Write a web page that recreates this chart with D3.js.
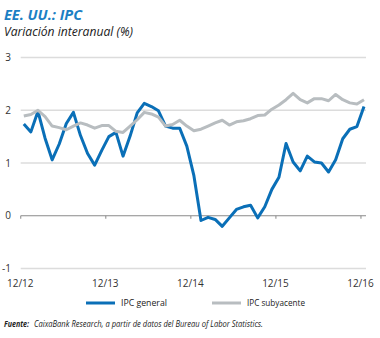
<!DOCTYPE html>
<html>
<head>
<meta charset="utf-8">
<script src="https://cdn.jsdelivr.net/npm/d3@7"></script>
<style>
  body { margin: 0; background: #fff; }
  svg { display: block; font-family: "Open Sans", "Liberation Sans", sans-serif; }
</style>
</head>
<body>
<div id="chart"></div>
<script>
// meses de 12/12 a 12/16
var months = ["12/12","01/13","02/13","03/13","04/13","05/13","06/13","07/13","08/13","09/13","10/13","11/13",
              "12/13","01/14","02/14","03/14","04/14","05/14","06/14","07/14","08/14","09/14","10/14","11/14",
              "12/14","01/15","02/15","03/15","04/15","05/15","06/15","07/15","08/15","09/15","10/15","11/15",
              "12/15","01/16","02/16","03/16","04/16","05/16","06/16","07/16","08/16","09/16","10/16","11/16",
              "12/16"];

var ipcGeneral = [1.74, 1.59, 1.98, 1.47, 1.06, 1.36, 1.75, 1.96, 1.52, 1.18, 0.96, 1.24,
                  1.50, 1.58, 1.13, 1.51, 1.95, 2.13, 2.07, 1.99, 1.70, 1.66, 1.66, 1.32,
                  0.76, -0.09, -0.03, -0.07, -0.20, -0.04, 0.12, 0.17, 0.20, -0.04, 0.17, 0.50,
                  0.73, 1.37, 1.02, 0.85, 1.13, 1.02, 1.00, 0.83, 1.06, 1.46, 1.64, 1.69,
                  2.07];

var ipcSubyacente = [1.89, 1.92, 2.00, 1.88, 1.70, 1.67, 1.63, 1.70, 1.76, 1.72, 1.66, 1.71,
                     1.71, 1.60, 1.58, 1.70, 1.82, 1.96, 1.93, 1.87, 1.70, 1.73, 1.81, 1.70,
                     1.61, 1.64, 1.70, 1.76, 1.81, 1.72, 1.78, 1.80, 1.84, 1.90, 1.91, 2.02,
                     2.10, 2.20, 2.32, 2.20, 2.14, 2.22, 2.22, 2.18, 2.30, 2.20, 2.14, 2.12,
                     2.20];

var yTicks = [-1, 0, 1, 2, 3];
var xTickLabels = ["12/12", "12/13", "12/14", "12/15", "12/16"];

var width = 380, height = 338;
var blue = "#0a6fb7", grey = "#b8bdc0";

var svg = d3.select("#chart").append("svg")
    .attr("width", width)
    .attr("height", height);

// titulo
svg.append("text")
    .attr("x", 4).attr("y", 20)
    .attr("font-size", 14).attr("font-weight", "bold").attr("font-style", "italic")
    .attr("fill", "#1b80c4")
    .attr("textLength", 78).attr("lengthAdjust", "spacingAndGlyphs")
    .text("EE. UU.: IPC");

svg.append("text")
    .attr("x", 4).attr("y", 36)
    .attr("font-size", 12).attr("font-style", "italic")
    .attr("fill", "#222")
    .attr("textLength", 129).attr("lengthAdjust", "spacingAndGlyphs")
    .text("Variación interanual (%)");

var x = d3.scaleLinear()
    .domain([0, months.length - 1])
    .range([23.8, 364]);

var y = d3.scaleLinear()
    .domain([-1, 3])
    .range([268.5, 57.5]);

var step = x(1) - x(0);
var left = 20.7, right = 366;

// lineas de cuadricula
svg.selectAll(".grid")
    .data(yTicks.filter(function (d) { return d !== 0; }))
    .enter().append("line")
    .attr("x1", left).attr("x2", right)
    .attr("y1", function (d) { return y(d); })
    .attr("y2", function (d) { return y(d); })
    .attr("stroke", "#dcdcdc")
    .attr("stroke-width", 1.3);

svg.selectAll(".ylab")
    .data(yTicks)
    .enter().append("text")
    .attr("x", 11).attr("y", function (d) { return y(d) + 3.5; })
    .attr("text-anchor", "end")
    .attr("font-size", 10).attr("fill", "#333")
    .text(function (d) { return d; });

// eje en cero
var xAxis = d3.axisBottom(x)
    .tickValues([0, 12, 24, 36, 48])
    .tickSize(3)
    .tickFormat("");

svg.append("g")
    .attr("transform", "translate(" + (-step / 2) + "," + y(0) + ")")
    .call(xAxis)
    .call(function (g) {
        g.select(".domain").remove();
        g.selectAll(".tick line").attr("stroke", "#888");
    });

svg.append("line")
    .attr("x1", left).attr("x2", right)
    .attr("y1", y(0)).attr("y2", y(0))
    .attr("stroke", "#8a8a8a").attr("stroke-width", 1.2);

svg.selectAll(".xlab")
    .data(xTickLabels)
    .enter().append("text")
    .attr("x", function (d, i) { return x(i * 12) - step / 2; })
    .attr("y", 287)
    .attr("text-anchor", "middle")
    .attr("font-size", 10).attr("fill", "#333")
    .text(function (d) { return d; });

var line = d3.line()
    .x(function (d, i) { return x(i); })
    .y(function (d) { return y(d); });

svg.append("path")
    .datum(ipcGeneral)
    .attr("d", line)
    .attr("fill", "none")
    .attr("stroke", blue)
    .attr("stroke-width", 3)
    .attr("stroke-linejoin", "round");

svg.append("path")
    .datum(ipcSubyacente)
    .attr("d", line)
    .attr("fill", "none")
    .attr("stroke", grey)
    .attr("stroke-width", 3)
    .attr("stroke-linejoin", "round");

// leyenda
var legend = [
    { name: "IPC general", color: blue, x: 86, w: 46 },
    { name: "IPC subyacente", color: grey, x: 212, w: 58 }
];

var lg = svg.selectAll(".legend")
    .data(legend)
    .enter().append("g")
    .attr("transform", function (d) { return "translate(" + d.x + ",303)"; });

lg.append("line")
    .attr("x1", 0).attr("x2", 29)
    .attr("stroke", function (d) { return d.color; })
    .attr("stroke-width", 3);

lg.append("text")
    .attr("x", 35).attr("y", 3)
    .attr("font-size", 9).attr("fill", "#222")
    .attr("textLength", function (d) { return d.w; })
    .attr("lengthAdjust", "spacingAndGlyphs")
    .text(function (d) { return d.name; });

// fuente
svg.append("text")
    .attr("x", 4).attr("y", 327)
    .attr("font-size", 9).attr("font-style", "italic").attr("font-weight", "bold")
    .attr("fill", "#222")
    .attr("textLength", 25).attr("lengthAdjust", "spacingAndGlyphs")
    .text("Fuente:");

svg.append("text")
    .attr("x", 34).attr("y", 327)
    .attr("font-size", 9).attr("font-style", "italic").attr("fill", "#222")
    .attr("textLength", 229).attr("lengthAdjust", "spacingAndGlyphs")
    .text("CaixaBank Research, a partir de datos del Bureau of Labor Statistics.");
</script>
</body>
</html>
